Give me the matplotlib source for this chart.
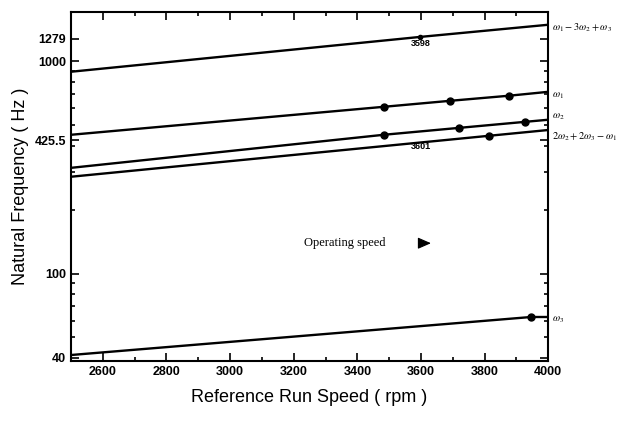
import matplotlib.pyplot as plt
from matplotlib.ticker import FixedLocator, NullFormatter, MultipleLocator, LogLocator

plt.rcParams['font.family'] = ['Liberation Sans', 'DejaVu Sans']
plt.rcParams['mathtext.fontset'] = 'stix'

# --- data ---
speed_top = [2500, 3598, 4000]
freq_top = [894, 1305, 1489]          # w1 - 3w2 + w3

speed_w1 = [2500, 3483, 3691, 3876, 4000]
freq_w1 = [451, 611, 652, 689, 719]
dots_w1 = [3483, 3691, 3876]
dots_w1_f = [611, 652, 689]

speed_w2 = [2500, 3483, 3719, 3927, 4000]
freq_w2 = [315, 451, 486, 519, 531]
dots_w2 = [3483, 3719, 3927]
dots_w2_f = [451, 486, 519]

speed_mix = [2500, 3813, 4000]
freq_mix = [286, 446, 475]            # 2w2 + 2w3 - w1
dots_mix = [3813]
dots_mix_f = [446]

speed_w3 = [2500, 3946, 4000]
freq_w3 = [41.3, 62.4, 62.4]
dots_w3 = [3946]
dots_w3_f = [62.4]

y_ticks = [40, 100, 425.5, 1000, 1279]
y_ticklabels = ['40', '100', '425.5', '1000', '1279']
x_ticks = [2600, 2800, 3000, 3200, 3400, 3600, 3800, 4000]

line_labels = [r'$\omega_1 - 3\omega_2 + \omega_3$', r'$\omega_1$', r'$\omega_2$',
               r'$2\omega_2 + 2\omega_3 - \omega_1$', r'$\omega_3$']
label_dy = [-2, -3, 2, -5, -2]   # points offset from line end

fig = plt.figure(figsize=(6.28, 4.21), dpi=100)
ax = fig.add_axes([0.113, 0.1425, 0.76, 0.829])

lw = 1.7
ax.plot(speed_top, freq_top, color='black', lw=lw)
ax.plot(speed_w1, freq_w1, color='black', lw=lw)
ax.plot(speed_w2, freq_w2, color='black', lw=lw)
ax.plot(speed_mix, freq_mix, color='black', lw=lw)
ax.plot(speed_w3, freq_w3, color='black', lw=lw)

for xs, ys in [(dots_w1, dots_w1_f), (dots_w2, dots_w2_f), (dots_mix, dots_mix_f), (dots_w3, dots_w3_f)]:
    ax.plot(xs, ys, 'o', color='black', ms=5)
ax.plot([3598], [1305], 'o', color='black', ms=3)

ax.set_yscale('log')
ax.set_xlim(2500, 4000)
ax.set_ylim(38.7, 1710)

ax.yaxis.set_major_locator(FixedLocator(y_ticks))
ax.set_yticklabels(y_ticklabels)
ax.yaxis.set_minor_locator(LogLocator(base=10, subs=(2, 3, 4, 5, 6, 7, 8, 9)))
ax.yaxis.set_minor_formatter(NullFormatter())
ax.xaxis.set_major_locator(FixedLocator(x_ticks))
ax.xaxis.set_minor_locator(MultipleLocator(100))

ax.tick_params(which='both', direction='in', top=True, right=True, width=1.2)
ax.tick_params(which='major', length=6, labelsize=9)
ax.tick_params(which='minor', length=3)
for lab in ax.get_xticklabels() + ax.get_yticklabels():
    lab.set_fontweight('bold')
for sp in ax.spines.values():
    sp.set_linewidth(1.5)

ax.set_xlabel('Reference Run Speed ( rpm )', fontsize=13, labelpad=8)
ax.set_ylabel('Natural Frequency ( Hz )', fontsize=13, labelpad=4)

# right-hand labels at line ends
ends = [freq_top[-1], freq_w1[-1], freq_w2[-1], freq_mix[-1], freq_w3[-1]]
for lab, f, dy in zip(line_labels, ends, label_dy):
    ax.annotate(lab, xy=(4000, f), xytext=(3, dy), textcoords='offset points',
                va='center', ha='left', fontsize=7.5, annotation_clip=False)

ax.annotate('3598', xy=(3598, 1305), xytext=(0, -5), textcoords='offset points',
            ha='center', va='center', fontsize=6.5, fontweight='bold')
ax.annotate('3601', xy=(3601, 420), xytext=(0, -4), textcoords='offset points',
            ha='center', va='center', fontsize=6.5, fontweight='bold')

ax.text(3231, 139, 'Operating speed', family=['Liberation Serif', 'DejaVu Serif'],
        fontsize=9, va='center', ha='left')
ax.annotate('', xy=(3640, 139), xytext=(3590, 139),
            arrowprops=dict(arrowstyle='-|>,head_length=0.8,head_width=0.35',
                            color='black', lw=0.8))

fig.savefig('out.png', dpi=100)
